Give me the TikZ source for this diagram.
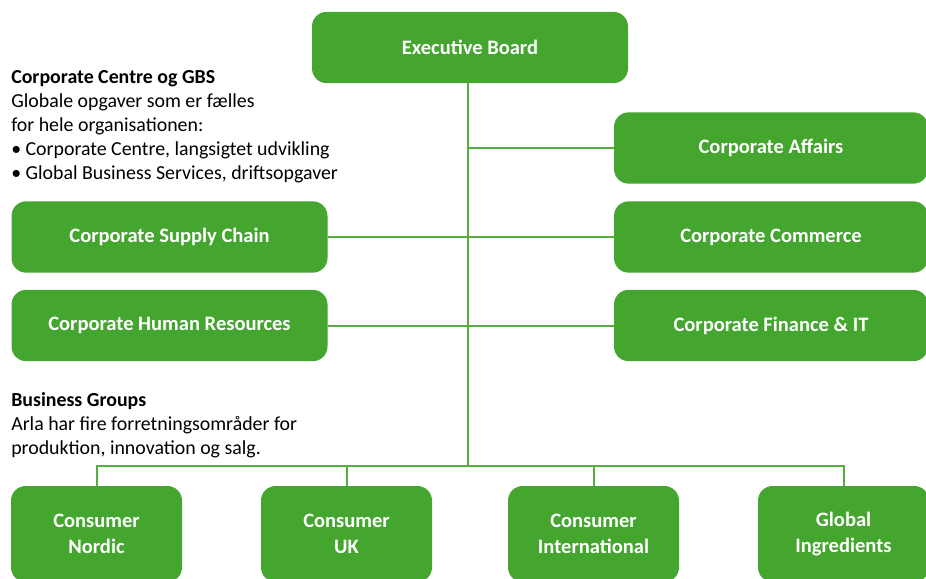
\documentclass[tikz,border=0pt]{standalone}
\usepackage{fontspec}
\setmainfont{Carlito}
\definecolor{arlagreen}{HTML}{44A62F}
\definecolor{linkgreen}{HTML}{55AD40}
\tikzset{
  unitbox/.style={rounded corners=11pt, fill=arlagreen, text=white, align=center, inner sep=0pt,
    font=\bfseries\fontsize{15.4}{19.5}\selectfont},
  sidebox/.style={unitbox, minimum width=237pt, minimum height=53.5pt},
  groupbox/.style={unitbox, minimum width=128.25pt, minimum height=72pt},
  link/.style={draw=linkgreen, line width=1.5pt},
  note/.style={anchor=north west, align=left, inner sep=0pt, font=\fontsize{14.9}{18}\selectfont}
}
\begin{document}
\begin{tikzpicture}[x=0.75pt,y=-0.75pt]
\clip (0,0) rectangle (926,579);
% board and corporate functions
\node[sidebox] (exec) at (470,47.5) {Executive Board};
\node[sidebox, minimum width=235.5pt] (affairs) at (771,148) {Corporate Affairs};
\node[sidebox, minimum width=235.5pt] (commerce) at (771,237) {Corporate Commerce};
\node[sidebox, minimum width=235.5pt] (finance) at (771,325.5) {Corporate Finance \& IT};
\node[sidebox] (supply) at (169.5,237) {Corporate Supply Chain};
\node[sidebox] (hr) at (169.5,325.5) {Corporate Human Resources};
% business groups
\node[groupbox] (nordic) at (96.5,534) {Consumer\\Nordic};
\node[groupbox] (uk) at (346.5,534) {Consumer\\UK};
\node[groupbox] (intl) at (593.5,534) {Consumer\\International};
\node[groupbox] (ingr) at (843.5,534) {Global\\Ingredients};
% texts
\node[note] (gbs) at (11,70) {\textbf{Corporate Centre og GBS}\\Globale opgaver som er fælles\\for hele organisationen:\\• Corporate Centre, langsigtet udvikling\\• Global Business Services, driftsopgaver};
\node[note] (groups) at (11,392) {\textbf{Business Groups}\\Arla har fire forretningsområder for\\produktion, innovation og salg.};
% connectors
\coordinate (bus) at (468,466);
\draw[link] (exec.south -| bus) -- (bus);
\draw[link] (affairs.west -| bus) -- (affairs.west);
\draw[link] (supply.east) -- (commerce.west);
\draw[link] (hr.east) -- (finance.west);
\draw[link] (nordic.north) |- (bus) -| (ingr.north);
\draw[link] (uk.north) -- (uk.north |- bus);
\draw[link] (intl.north) -- (intl.north |- bus);
\end{tikzpicture}
\end{document}
